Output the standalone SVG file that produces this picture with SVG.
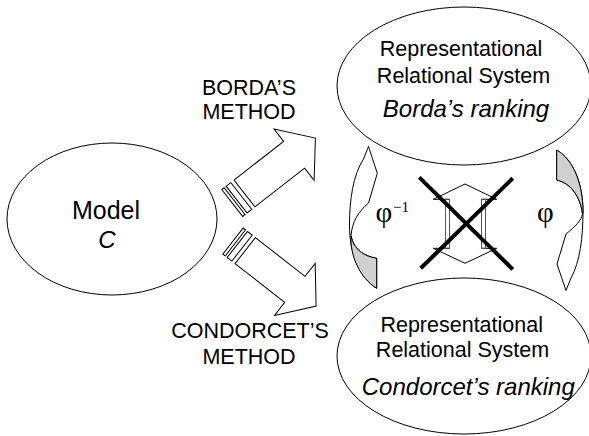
<svg xmlns="http://www.w3.org/2000/svg" width="589" height="436" viewBox="0 0 589 436">
<defs>
<style>
.ol{fill:#fff;stroke:#000;stroke-width:1}
.sh{fill:#d0d0d0;stroke:#000;stroke-width:1}
.t{font-family:"Liberation Sans",Arial,sans-serif;font-size:21.5px;fill:#000;text-anchor:middle}
.it{font-family:"Liberation Sans",Arial,sans-serif;font-size:24px;font-style:italic;fill:#000;text-anchor:middle}
.g{font-family:"Liberation Serif","Times New Roman",serif;fill:#000}
</style>
</defs>
<rect width="589" height="436" fill="#fff"/>

<g id="model">
<ellipse cx="112" cy="219" rx="105" ry="76" fill="#fff" stroke="#000"/>
<text class="t" x="106" y="219" style="font-size:25px">Model</text>
<text class="it" x="107" y="248">C</text>
</g>

<g id="borda-system">
<ellipse cx="464" cy="86" rx="127" ry="79" fill="#fff" stroke="#000"/>
<text class="t" x="461" y="56">Representational</text>
<text class="t" x="463.5" y="82.5">Relational System</text>
<text class="it" x="466" y="116.5">Borda’s ranking</text>
</g>

<g id="condorcet-system">
<ellipse cx="464" cy="356" rx="127" ry="78" fill="#fff" stroke="#000"/>
<text class="t" x="461.7" y="331.5">Representational</text>
<text class="t" x="462.5" y="356.5">Relational System</text>
<text class="it" x="468.3" y="395">Condorcet’s ranking</text>
</g>

<g id="labels">
<text class="t" x="249" y="95">BORDA’S</text>
<text class="t" x="249" y="119">METHOD</text>
<text class="t" x="250" y="338">CONDORCET’S</text>
<text class="t" x="249" y="364">METHOD</text>
</g>

<g id="connectors">
<g id="arrow-borda" transform="rotate(-38)">
<path class="ol" d="M73.5,286 L136.5,286 L136.5,270.5 L163.5,303 L136.5,335.5 L136.5,320 L73.5,320 Z"/>
<rect class="ol" x="58" y="286" width="3" height="34"/>
<rect class="ol" x="63.5" y="286" width="6" height="34"/>
</g>
<g id="arrow-condorcet" transform="rotate(38)">
<path class="ol" d="M347.5,30 L410.5,30 L410.5,13.5 L437.5,46.5 L410.5,79.5 L410.5,63 L347.5,63 Z"/>
<rect class="ol" x="332" y="30" width="3" height="33"/>
<rect class="ol" x="337.5" y="30" width="6" height="33"/>
</g>
<g id="arrow-phi-inv">
<path class="ol" d="M368.5,146.5 L377.3,173.3 L368.5,203 C358,212 352,222 351,236 C354,250 364,256 376.7,258.3 L376.7,288.3 C360,278 349.5,255 349.5,225 C349.5,200 353,175 363.5,159 Z"/>
<path class="sh" d="M351,236 C354,250 364,256 376.7,258.3 L376.7,288.3 C360,278 350,256 351,236 Z"/>
</g>
<g id="arrow-phi">
<path class="ol" d="M566,290.5 L557,264 L566,234 C576,226 581.5,220 582.5,214 C580,195 570,183 556.7,180 L556.7,150 C574,160 583,185 583,212 C583,237 580,262 571,278 Z"/>
<path class="sh" d="M582.5,214 C580,195 570,183 556.7,180 L556.7,150 C574,160 583,185 583,212 Z"/>
</g>
</g>

<g id="phi-labels">
<text class="g" x="375.5" y="222" font-size="29">φ</text>
<text class="g" x="393" y="212" font-size="15">−1</text>
<text class="g" x="537" y="222" font-size="29">φ</text>
</g>

<g id="crossed-shape">
<path d="M433.3,199.3 L465,184 L496.7,199.3 M433.3,248.3 L465,263.3 L496.7,248.3 M433.3,199.3 L449.5,199.3 M433.3,248.3 L449.5,248.3 M481.5,199.3 L496.7,199.3 M481.5,248.3 L496.7,248.3" fill="none" stroke="#000" stroke-width="1"/>
<rect x="445.5" y="199.3" width="4" height="49" fill="none" stroke="#555" stroke-width="1"/>
<rect x="481.5" y="199.3" width="4" height="49" fill="none" stroke="#555" stroke-width="1"/>
<path d="M419.3,177.3 L512.7,269.3 M512.7,178.3 L420.7,268.3" stroke="#000" stroke-width="4" fill="none"/>
</g>
</svg>
